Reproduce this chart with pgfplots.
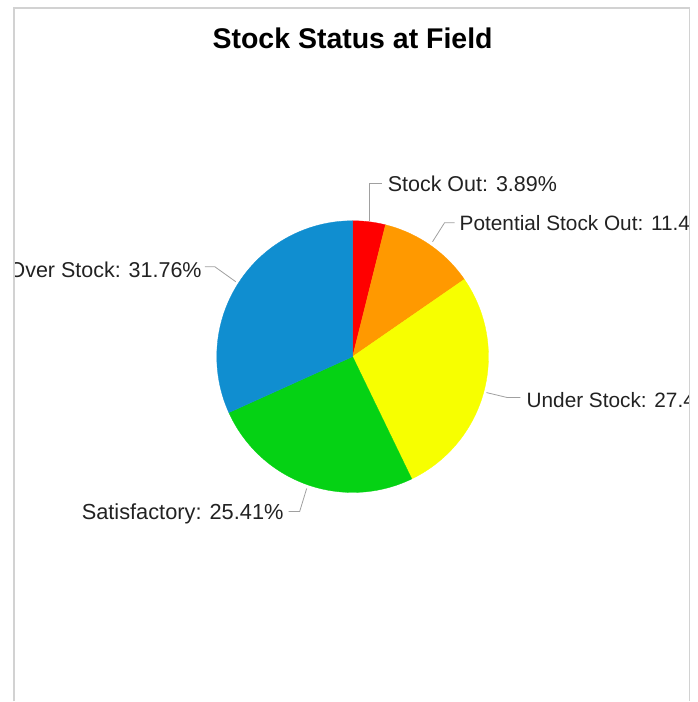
\documentclass[border=0pt]{standalone}
\usepackage{pgfplots}
\pgfplotsset{compat=1.18}
\usepackage{pgfplotstable}
\usepackage{fontspec}
\setmainfont{Liberation Sans}
\definecolor{cRed}{RGB}{255,0,0}
\definecolor{cOrange}{RGB}{255,153,0}
\definecolor{cYellow}{RGB}{247,255,0}
\definecolor{cGreen}{RGB}{5,210,20}
\definecolor{cBlue}{RGB}{16,142,208}
\definecolor{cLine}{RGB}{160,160,160}
\definecolor{cFrame}{RGB}{210,210,210}
\definecolor{cText}{RGB}{34,34,34}

\pgfplotstableread[col sep=comma]{
name,value
Stock Out,3.89
Potential Stock Out,11.48
Under Stock,27.46
Satisfactory,25.41
Over Stock,31.76
}\piedata

\pgfplotstablegetelem{0}{value}\of\piedata \let\vA\pgfplotsretval
\pgfplotstablegetelem{1}{value}\of\piedata \let\vB\pgfplotsretval
\pgfplotstablegetelem{2}{value}\of\piedata \let\vC\pgfplotsretval
\pgfplotstablegetelem{3}{value}\of\piedata \let\vD\pgfplotsretval
\pgfplotstablegetelem{4}{value}\of\piedata \let\vE\pgfplotsretval
\pgfmathsetmacro\aA{3.6*\vA}
\pgfmathsetmacro\aB{\aA+3.6*\vB}
\pgfmathsetmacro\aC{\aB+3.6*\vC}
\pgfmathsetmacro\aD{\aC+3.6*\vD}
\pgfmathsetmacro\aE{\aD+3.6*\vE}

\begin{document}
\begin{tikzpicture}
\begin{axis}[
  scale only axis, width=698pt, height=702pt,
  xmin=0, xmax=698, ymin=0, ymax=702, y dir=reverse,
  hide axis, clip=false,
]
\path (axis cs:0,0) rectangle (axis cs:698,702);
% pie slices (clockwise from top)
\addplot[fill=cRed, draw=cRed, line width=0.3pt, domain=0:\aA, samples=20] ({353+136*sin(x)},{357-136*cos(x)}) -- (axis cs:353,357) -- cycle;
\addplot[fill=cOrange, draw=cOrange, line width=0.3pt, domain=\aA:\aB, samples=30] ({353+136*sin(x)},{357-136*cos(x)}) -- (axis cs:353,357) -- cycle;
\addplot[fill=cYellow, draw=cYellow, line width=0.3pt, domain=\aB:\aC, samples=60] ({353+136*sin(x)},{357-136*cos(x)}) -- (axis cs:353,357) -- cycle;
\addplot[fill=cGreen, draw=cGreen, line width=0.3pt, domain=\aC:\aD, samples=60] ({353+136*sin(x)},{357-136*cos(x)}) -- (axis cs:353,357) -- cycle;
\addplot[fill=cBlue, draw=cBlue, line width=0.3pt, domain=\aD:\aE, samples=70] ({353+136*sin(x)},{357-136*cos(x)}) -- (axis cs:353,357) -- cycle;

% leader lines
\draw[cLine, line width=0.8pt] (axis cs:370,221) -- (axis cs:370,184) -- (axis cs:382,184);
\draw[cLine, line width=0.8pt] (axis cs:433,242) -- (axis cs:445,223) -- (axis cs:455,223);
\draw[cLine, line width=0.8pt] (axis cs:487,393) -- (axis cs:508,398) -- (axis cs:521,398);
\draw[cLine, line width=0.8pt] (axis cs:307,489) -- (axis cs:300,512) -- (axis cs:289,512);
\draw[cLine, line width=0.8pt] (axis cs:236,282) -- (axis cs:215,267) -- (axis cs:205,267);

\begin{scope}
\clip (axis cs:15,9) rectangle (axis cs:689,702);
\node[anchor=west, inner sep=0pt, text=cText, font=\fontsize{21.5}{24}\selectfont] at (axis cs:388,184) {Stock Out: 3.89\%};
\node[anchor=west, inner sep=0pt, text=cText, font=\fontsize{20.8}{24}\selectfont] at (axis cs:460,223) {Potential Stock Out: 11.48\%};
\node[anchor=west, inner sep=0pt, text=cText, font=\fontsize{20.8}{24}\selectfont] at (axis cs:527,400) {Under Stock: 27.46\%};
\node[anchor=east, inner sep=0pt, text=cText, font=\fontsize{21.8}{24}\selectfont] at (axis cs:284,514) {Satisfactory: 25.41\%};
\node[anchor=east, inner sep=0pt, text=cText, font=\fontsize{21.5}{24}\selectfont] at (axis cs:202,270) {Over Stock: 31.76\%};
\end{scope}

% title
\node[inner sep=0pt, text=black, font=\bfseries\fontsize{28.5}{31}\selectfont] at (axis cs:353,38) {Stock Status at Field};

% frame
\draw[cFrame, line width=1.5pt] (axis cs:14,702) -- (axis cs:14,8) -- (axis cs:690,8) -- (axis cs:690,702);
\end{axis}
\end{tikzpicture}
\end{document}
